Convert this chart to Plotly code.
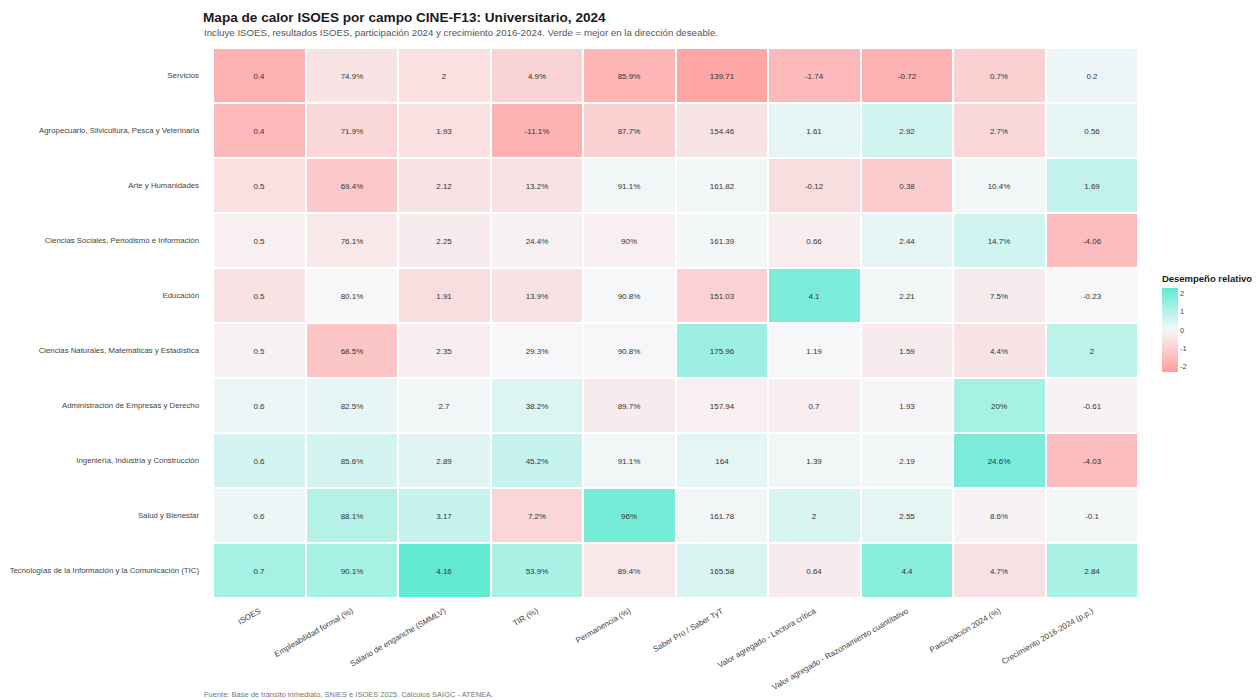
import plotly.graph_objects as go

# Campos CINE-F13 (ordenados por ISOES)
campos = [
    "Servicios",
    "Agropecuario, Silvicultura, Pesca y Veterinaria",
    "Arte y Humanidades",
    "Ciencias Sociales, Periodismo e Información",
    "Educación",
    "Ciencias Naturales, Matemáticas y Estadística",
    "Administración de Empresas y Derecho",
    "Ingeniería, Industria y Construcción",
    "Salud y Bienestar",
    "Tecnologías de la Información y la Comunicación (TIC)",
]

indicadores = [
    "ISOES",
    "Empleabilidad formal (%)",
    "Salario de enganche (SMMLV)",
    "TIR (%)",
    "Permanencia (%)",
    "Saber Pro / Saber TyT",
    "Valor agregado - Lectura crítica",
    "Valor agregado - Razonamiento cuantitativo",
    "Participación 2024 (%)",
    "Crecimiento 2016-2024 (p.p.)",
]

# Valores mostrados en cada celda (por indicador, en el orden de campos)
isoes = [0.4, 0.4, 0.5, 0.5, 0.5, 0.5, 0.6, 0.6, 0.6, 0.7]
empleabilidad = [74.9, 71.9, 69.4, 76.1, 80.1, 68.5, 82.5, 85.6, 88.1, 90.1]
salario = [2, 1.93, 2.12, 2.25, 1.91, 2.35, 2.7, 2.89, 3.17, 4.16]
tir = [4.9, -11.1, 13.2, 24.4, 13.9, 29.3, 38.2, 45.2, 7.2, 53.9]
permanencia = [85.9, 87.7, 91.1, 90, 90.8, 90.8, 89.7, 91.1, 96, 89.4]
saber = [139.71, 154.46, 161.82, 161.39, 151.03, 175.96, 157.94, 164, 161.78, 165.58]
va_lectura = [-1.74, 1.61, -0.12, 0.66, 4.1, 1.19, 0.7, 1.39, 2, 0.64]
va_razonamiento = [-0.72, 2.92, 0.38, 2.44, 2.21, 1.59, 1.93, 2.19, 2.55, 4.4]
participacion = [0.7, 2.7, 10.4, 14.7, 7.5, 4.4, 20, 24.6, 8.6, 4.7]
crecimiento = [0.2, 0.56, 1.69, -4.06, -0.23, 2, -0.61, -4.03, -0.1, 2.84]

# Desempeño relativo (color de cada celda, estimado del gráfico)
rel_isoes = [-1.8, -1.6, -0.6, -0.2, -0.55, -0.15, 0.15, 0.55, 0.15, 1.25]
rel_empleabilidad = [-0.5, -0.8, -1.2, -0.4, 0.0, -1.3, 0.25, 0.55, 1.0, 1.25]
rel_salario = [-0.6, -0.6, -0.55, -0.3, -0.65, -0.25, 0.1, 0.35, 0.75, 2.3]
rel_tir = [-0.9, -1.8, -0.55, -0.15, -0.55, 0.0, 0.4, 0.75, -0.85, 1.2]
rel_permanencia = [-1.7, -1.0, 0.1, -0.2, 0.03, 0.0, -0.3, 0.1, 2.0, -0.4]
rel_saber = [-2.1, -0.5, 0.1, 0.05, -0.95, 1.4, -0.2, 0.3, 0.1, 0.45]
rel_lectura = [-1.6, 0.3, -0.65, -0.25, 1.9, 0.0, -0.25, 0.1, 0.5, -0.3]
rel_razonamiento = [-1.8, 0.6, -1.1, 0.25, 0.1, -0.3, -0.05, 0.05, 0.3, 1.7]
rel_participacion = [-1.0, -0.8, 0.05, 0.6, -0.3, -0.5, 1.25, 1.9, -0.1, -0.55]
rel_crecimiento = [0.15, 0.3, 0.8, -1.5, -0.02, 0.9, -0.1, -1.5, 0.05, 1.2]

columnas = [isoes, empleabilidad, salario, tir, permanencia, saber,
            va_lectura, va_razonamiento, participacion, crecimiento]
relativos = [rel_isoes, rel_empleabilidad, rel_salario, rel_tir, rel_permanencia,
             rel_saber, rel_lectura, rel_razonamiento, rel_participacion, rel_crecimiento]
decimales = [1, 1, 2, 1, 1, 2, 2, 2, 1, 2]
es_porcentaje = [False, True, False, True, True, False, False, False, True, False]


def fmt(v, nd, pct):
    s = f"{v:.{nd}f}".rstrip("0").rstrip(".")
    return s + "%" if pct else s


n_f, n_c = len(campos), len(indicadores)
z = [[relativos[j][i] for j in range(n_c)] for i in range(n_f)]
texto = [[fmt(columnas[j][i], decimales[j], es_porcentaje[j]) for j in range(n_c)]
         for i in range(n_f)]

escala = [[0.0, "#FF9E9E"], [0.5, "#F7F7F9"], [1.0, "#62EAD3"]]

# la página html agrega 8px de margen, se compensa aquí
W, H = 1252, 692
L, R, T, B = 205, 122, 40, 102
ph = H - T - B
pw = W - L - R

fig = go.Figure(go.Heatmap(
    z=z,
    x=indicadores,
    y=campos,
    text=texto,
    texttemplate="%{text}",
    textfont=dict(size=8, color="#333333"),
    colorscale=escala,
    zmin=-2.3, zmax=2.3,
    xgap=2, ygap=2,
    hoverinfo="skip",
    colorbar=dict(
        title=dict(text="<b>Desempeño relativo</b>", font=dict(size=9.5, color="#1a1a1a"), side="top"),
        tickmode="array",
        tickvals=[-2, -1, 0, 1, 2],
        ticktext=["-2", "-1", "0", "1", "2"],
        tickfont=dict(size=7.5, color="#444444"),
        thickness=16, lenmode="pixels", len=100, ypad=0,
        x=1.015, xanchor="left", y=(ph - (272 - 8 - T)) / ph, yanchor="top",
        outlinewidth=0, ticks="", ticklen=0,
    ),
))

fig.update_layout(
    width=W, height=H,
    margin=dict(l=L, r=R, t=T, b=B, autoexpand=False),
    paper_bgcolor="white", plot_bgcolor="white",
    font=dict(family="Liberation Sans, Arial, sans-serif", color="#444444"),
    title=dict(
        text="<b>Mapa de calor ISOES por campo CINE-F13: Universitario, 2024</b>",
        x=195 / W, xanchor="left", xref="container",
        y=1 - 9 / H, yanchor="middle", yref="container",
        font=dict(size=13.6, color="#1a1a1a"),
    ),
    annotations=[
        dict(text="Incluye ISOES, resultados ISOES, participación 2024 y crecimiento 2016-2024. "
                  "Verde = mejor en la dirección deseable.",
             xref="paper", yref="paper", x=-11 / pw, y=(ph + T - 25) / ph,
             xanchor="left", yanchor="middle", showarrow=False,
             font=dict(size=9.7, color="#555555")),
        dict(text="Fuente: Base de tránsito inmediato, SNIES e ISOES 2025. Cálculos SAIGC - ATENEA.",
             xref="paper", yref="paper", x=-11 / pw, y=(ph + T - 686) / ph,
             xanchor="left", yanchor="middle", showarrow=False,
             font=dict(size=7.5, color="#777777")),
    ],
)

fig.update_xaxes(tickangle=-30, tickfont=dict(size=8, color="#444444"),
                 showgrid=False, zeroline=False, ticks="", ticklabelstandoff=6,
                 automargin=False)
fig.update_yaxes(autorange="reversed", tickfont=dict(size=7.8, color="#444444"),
                 showgrid=False, zeroline=False, ticks="", ticklabelstandoff=13,
                 automargin=False)

fig.write_html("out.html")
